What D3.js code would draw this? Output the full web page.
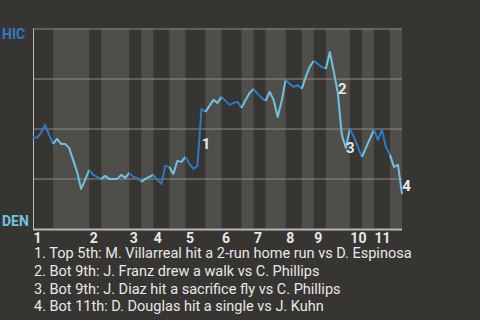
<!DOCTYPE html>
<html><head><meta charset="utf-8">
<script src="https://cdn.jsdelivr.net/npm/d3@7"></script>
<style>
html,body{margin:0;padding:0;background:#373532;}
svg{display:block;}
</style></head>
<body>
<svg id="chart" width="480" height="320"></svg>
<script>
// ---- data ----
const awayTeam = "HIC";
const homeTeam = "DEN";
const inningLabels = ["1","2","3","4","5","6","7","8","9","10","11"];
// event index where each half-inning starts (top1, bot1, top2, bot2, ...)
const halfInningStarts = [0,5,14,17,24,27,30,34,38,43,47,52,55,58,63,67,70,73,79,82,85,89];
const lastEvent = 92;
// HIC win probability after each event
const winProb = [
 0.458,0.453,0.478,0.518,0.468,0.423,0.448,0.423,0.423,0.403,
 0.343,0.283,0.198,0.243,0.293,0.268,0.258,0.248,0.263,0.248,
 0.248,0.248,0.268,0.253,0.278,0.258,0.253,0.233,0.248,0.258,
 0.268,0.243,0.223,0.313,0.308,0.273,0.338,0.333,0.358,0.323,
 0.298,0.313,0.598,0.583,0.613,0.643,0.628,0.658,0.638,0.618,
 0.628,0.633,0.603,0.643,0.678,0.698,0.673,0.653,0.638,0.683,
 0.643,0.558,0.638,0.743,0.723,0.708,0.718,0.698,0.758,0.808,
 0.838,0.823,0.808,0.798,0.883,0.783,0.678,0.468,0.403,0.498,
 0.458,0.408,0.358,0.403,0.448,0.493,0.443,0.493,0.408,0.368,
 0.308,0.318,0.173
];
const annotationEvents = [42, 76, 78, 92];
const annotationTexts = [
 "1. Top 5th: M. Villarreal hit a 2-run home run vs D. Espinosa",
 "2. Bot 9th: J. Franz drew a walk vs C. Phillips",
 "3. Bot 9th: J. Diaz hit a sacrifice fly vs C. Phillips",
 "4. Bot 11th: D. Douglas hit a single vs J. Kuhn"
];

// ---- styles ----
const bg = "#373532", stripe = "#504e4b", grid = "#8c8b89", axisCol = "#b9b8b6";
const awayCol = "#2f78c4", homeCol = "#6fc3e0", textCol = "#e8e8e8";
const font = "Roboto, 'Noto Sans', sans-serif";

const m = {left:33, right:402, top:28.5, bottom:228.5};
const svg = d3.select("#chart");
svg.append("rect").attr("width",480).attr("height",320).attr("fill",bg);

const x = d3.scaleLinear().domain([0,lastEvent]).range([m.left, m.right]);
const y = d3.scaleLinear().domain([0,1]).range([m.bottom, m.top]);

// half-inning stripes (bottom halves lighter)
const halves = halfInningStarts.map((s,i)=>({start:s, end: i+1<halfInningStarts.length?halfInningStarts[i+1]:lastEvent, bottom: i%2===1}));
svg.append("g").selectAll("rect").data(halves.filter(h=>h.bottom)).join("rect")
  .attr("x",d=>x(d.start)).attr("width",d=>x(d.end)-x(d.start))
  .attr("y",m.top).attr("height",m.bottom-m.top).attr("fill",stripe);

// gridlines
const yAxis = d3.axisLeft(y).tickValues([0.25,0.5,0.75,1]).tickSize(-(m.right-m.left)).tickFormat("");
const gy = svg.append("g").attr("transform",`translate(${m.left},0)`).call(yAxis);
gy.select(".domain").remove();
gy.selectAll(".tick line").attr("stroke",grid).attr("stroke-width",1);

// left & bottom axis lines
svg.append("line").attr("x1",m.left+0.5).attr("x2",m.left+0.5).attr("y1",m.top).attr("y2",m.bottom+1.5)
  .attr("stroke",axisCol).attr("stroke-width",1);
svg.append("line").attr("x1",m.left).attr("x2",m.right).attr("y1",m.bottom+1).attr("y2",m.bottom+1)
  .attr("stroke",axisCol).attr("stroke-width",2);

// inning tick labels
const topStarts = halfInningStarts.filter((d,i)=>i%2===0);
const xAxis = d3.axisBottom(x).tickValues(topStarts).tickSize(0).tickFormat((d,i)=>inningLabels[i]);
const gx = svg.append("g").attr("transform",`translate(0,${m.bottom})`).call(xAxis);
gx.select(".domain").remove();
gx.selectAll(".tick text").attr("text-anchor","start").attr("x",0).attr("y",14).attr("dy",0)
  .attr("fill",textCol).attr("font-family",font).attr("font-weight","bold").attr("font-size",14);

// win probability line, coloured by batting team
const pts = winProb.map((p,i)=>({i, p}));
const segs = d3.range(lastEvent).map(i=>{
  let hi = 0; halfInningStarts.forEach((s,k)=>{ if (i>=s) hi=k; });
  return {a:pts[i], b:pts[i+1], bottom: hi%2===1};
});
const runs = [];
segs.forEach(s=>{
  const last = runs[runs.length-1];
  if (last && last.bottom===s.bottom) last.pts.push(s.b);
  else runs.push({bottom:s.bottom, pts:[s.a, s.b]});
});
const line = d3.line().x(d=>x(d.i)).y(d=>y(d.p));
svg.append("g").selectAll("path").data(runs).join("path")
  .attr("d",d=>line(d.pts)).attr("fill","none")
  .attr("stroke",d=>d.bottom?homeCol:awayCol).attr("stroke-width",2)
  .attr("stroke-linejoin","round");

// team labels
svg.append("text").attr("x",2).attr("y",m.top+10.5).text(awayTeam)
  .attr("fill",awayCol).attr("font-family",font).attr("font-weight","bold").attr("font-size",14);
svg.append("text").attr("x",2).attr("y",m.bottom-3).text(homeTeam)
  .attr("fill",homeCol).attr("font-family",font).attr("font-weight","bold").attr("font-size",14);

// annotation markers at the midpoint of the event segment
svg.append("g").selectAll("text").data(annotationEvents).join("text")
  .attr("x",d=>(x(d-1)+x(d))/2 + 6.5)
  .attr("y",d=>(y(winProb[d-1])+y(winProb[d]))/2 + 12)
  .attr("text-anchor","middle").text((d,i)=>i+1)
  .attr("fill",textCol).attr("font-family",font).attr("font-weight","bold").attr("font-size",15);

// annotation list
svg.append("g").selectAll("text").data(annotationTexts).join("text")
  .attr("x",34).attr("y",(d,i)=>258+i*17.8).text(d=>d)
  .attr("fill",textCol).attr("font-family",font).attr("font-size",14.5);
</script>
</body></html>
